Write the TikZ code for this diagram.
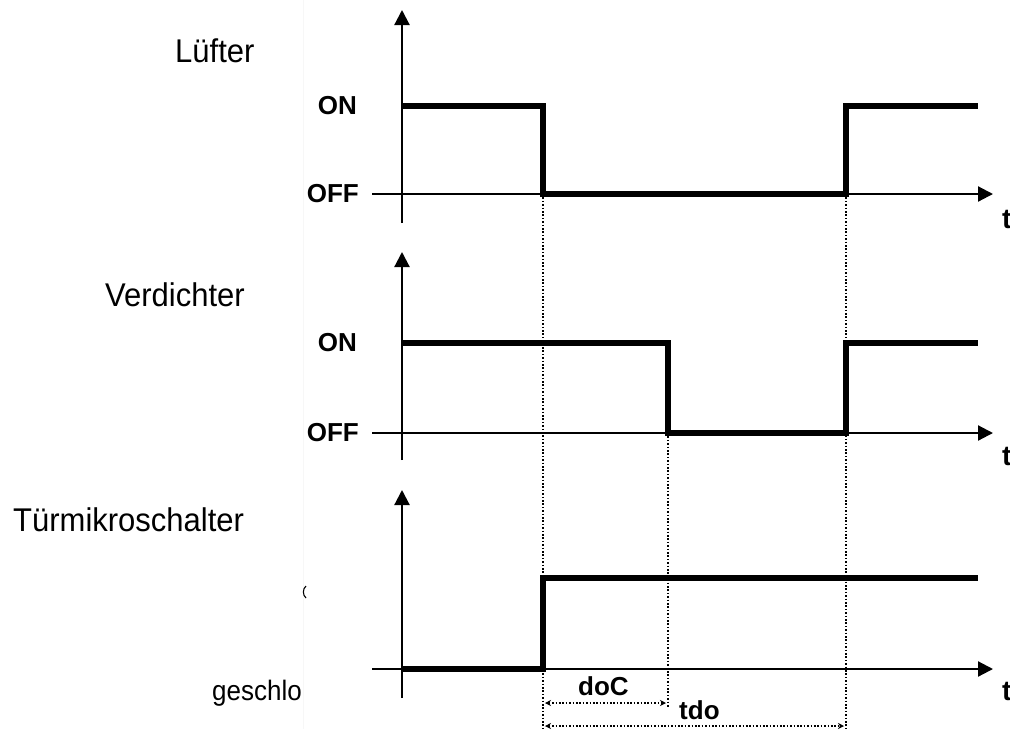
\documentclass[tikz,border=0pt]{standalone}
\usepackage{fontspec}
\setmainfont{Liberation Sans}
\usetikzlibrary{arrows.meta}
\begin{document}
\begin{tikzpicture}[x=1pt,y=-1pt,
  axis/.style={line width=2.2pt,-{Triangle[length=15pt,width=15pt]}},
  sig/.style={line width=6.5pt,line join=miter,line cap=butt},
  guide/.style={line width=1.6pt,dash pattern=on 1.6pt off 1.8pt},
  dim/.style={guide,{Stealth[length=6pt,width=6pt]}-{Stealth[length=6pt,width=6pt]}},
  title/.style={font=\fontsize{31}{36}\selectfont,anchor=base west,inner sep=0,yscale=1.06},
  small/.style={font=\fontsize{26}{30}\selectfont,anchor=base west,inner sep=0,yscale=1.08},
  lvl/.style={font=\fontsize{26}{30}\selectfont\bfseries,anchor=east,inner sep=0},
  tlab/.style={font=\fontsize{26}{30}\selectfont\bfseries,anchor=base west,inner sep=0},
  taxis/.style={font=\fontsize{28}{32}\selectfont\bfseries,anchor=base west,inner sep=0}]
\useasboundingbox (0,0) rectangle (1010,729);
% faint edge
\draw[black!3,line width=1pt] (303,0) -- (303,729);
% titles
\node[title] (t1) at (175,62) {Lüfter};
\node[title] (t2) at (105,306) {Verdichter};
\node[title] (t3) at (13,531) {Türmikroschalter};
\node[small] (g) at (212,700) {geschlo};
\draw[line width=1.1pt] (306,586) .. controls (302.5,589) and (302.5,595) .. (306,598);
% level labels
\node[lvl] (on1) at (357,106) {ON};
\node[lvl] (off1) at (359,194) {OFF};
\node[lvl] (on2) at (357,343) {ON};
\node[lvl] (off2) at (359,433) {OFF};
% time labels
\node[taxis] (tt1) at (1002,228) {t};
\node[taxis] (tt2) at (1002,465) {t};
\node[taxis] (tt3) at (1002,700) {t};
% coordinates
\coordinate (y1b) at (402,223); \coordinate (y1t) at (402,10);
\coordinate (x1l) at (372,194); \coordinate (x1r) at (993,194);
\coordinate (y2b) at (402,460); \coordinate (y2t) at (402,252);
\coordinate (x2l) at (372,433); \coordinate (x2r) at (993,433);
\coordinate (y3b) at (402,698); \coordinate (y3t) at (402,490);
\coordinate (x3l) at (372,669); \coordinate (x3r) at (993,669);
% dotted guides
\coordinate (ga) at (543,194); \coordinate (gae) at (543,729);
\coordinate (gb) at (668,433); \coordinate (gbe) at (668,707);
\coordinate (gc) at (846,194); \coordinate (gce) at (846,729);
\draw[guide] (ga) -- (gae);
\draw[guide] (gb) -- (gbe);
\draw[guide] (gc) -- (gce);
% axes
\draw[axis] (y1b) -- (y1t);
\draw[axis] (x1l) -- (x1r);
\draw[axis] (y2b) -- (y2t);
\draw[axis] (x2l) -- (x2r);
\draw[axis] (y3b) -- (y3t);
\draw[axis] (x3l) -- (x3r);
% signals
\draw[sig] (402,106) -- (543,106) -- (543,194) -- (846,194) -- (846,106) -- (978,106);
\draw[sig] (402,343) -- (668,343) -- (668,433) -- (846,433) -- (846,343) -- (978,343);
\draw[sig] (402,669) -- (543,669) -- (543,578) -- (978,578);
% dimensions
\coordinate (d1a) at (545,703); \coordinate (d1b) at (666,703);
\coordinate (d2a) at (545,726); \coordinate (d2b) at (844,726);
\draw[dim] (d1a) -- (d1b);
\draw[dim] (d2a) -- (d2b);
\node[tlab] (doc) at (578,695) {doC};
\node[tlab] (tdo) at (679,719) {tdo};
\end{tikzpicture}
\end{document}
